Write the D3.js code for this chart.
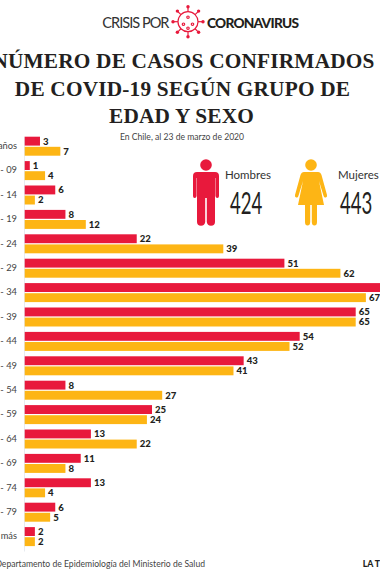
<!DOCTYPE html>
<html lang="es">
<head>
<meta charset="UTF-8">
<title>Casos confirmados de COVID-19 por edad y sexo</title>
<script src="https://d3js.org/d3.v7.min.js"></script>
<style>
    html, body { margin: 0; padding: 0; background: #fff; overflow: hidden; }
    svg { display: block; font-family: Lato, sans-serif; }
</style>
</head>
<body>
<svg width="380" height="570"></svg>
<script>
// Data
const ageGroups = ["00 - 04 años", "05 - 09", "10 - 14", "15 - 19", "20 - 24", "25 - 29", "30 - 34", "35 - 39", "40 - 44",
    "45 - 49", "50 - 54", "55 - 59", "60 - 64", "65 - 69", "70 - 74", "75 - 79", "80 y más"];
const hombres = [3, 1, 6, 8, 22, 51, 93, 65, 54, 43, 8, 25, 13, 11, 13, 6, 2];
const mujeres = [7, 4, 2, 12, 39, 62, 67, 65, 52, 41, 27, 24, 22, 8, 4, 5, 2];
const sexes = ["Hombres", "Mujeres"];
const totals = [424, 443];
const titleLines = ["NÚMERO DE CASOS CONFIRMADOS", "DE COVID-19 SEGÚN GRUPO DE", "EDAD Y SEXO"];

const RED = "#e8193c", YELLOW = "#fdb515", INK = "#231f20";

const svg = d3.select("svg");

// Scales
const x = d3.scaleLinear().domain([0, 65]).range([24.7, 355.7]);
const y = d3.scaleBand().domain(ageGroups).range([136.7, 551.5]).padding(0);
const sub = d3.scaleBand().domain(sexes).range([0, 19]).paddingInner(0.12);

// Header
const head = svg.append("g");
head.append("text").attr("x", 168.5).attr("y", 27.5).attr("text-anchor", "end")
    .attr("font-size", 14.6).attr("font-weight", 400).attr("letter-spacing", -1).attr("fill", "#333").text("CRISIS POR");
head.append("text").attr("x", 207).attr("y", 27.5)
    .attr("font-size", 13.7).attr("font-weight", 900).attr("letter-spacing", -0.75).attr("fill", INK).text("CORONAVIRUS");

// Virus logo
const virus = head.append("g").attr("transform", "translate(188,21.7)")
    .attr("fill", "none").attr("stroke", RED).attr("stroke-width", 1.2);
virus.append("circle").attr("r", 10);
d3.range(8).forEach(function(i) {
    const a = i * Math.PI / 4;
    virus.append("line").attr("x1", 10 * Math.sin(a)).attr("y1", -10 * Math.cos(a))
        .attr("x2", 14 * Math.sin(a)).attr("y2", -14 * Math.cos(a));
    virus.append("circle").attr("cx", 15 * Math.sin(a)).attr("cy", -15 * Math.cos(a))
        .attr("r", 1.7).attr("fill", RED).attr("stroke", "none");
});
[[0, -4.5], [-4.5, 2.5], [4.5, 2.5], [0, 6.5]].forEach(function(p) {
    virus.append("circle").attr("cx", p[0]).attr("cy", p[1]).attr("r", 1.2);
});

// Title
svg.append("g").selectAll("text").data(titleLines).enter().append("text")
    .attr("x", (d, i) => [183.5, 182.5, 181.5][i])
    .attr("y", (d, i) => [68.3, 95.5, 122.5][i])
    .attr("text-anchor", "middle")
    .attr("font-family", "'Liberation Serif', serif")
    .attr("font-weight", 700).attr("font-size", 21.3).attr("letter-spacing", 0.2).attr("fill", INK)
    .text(d => d);

svg.append("text").attr("x", 182).attr("y", 140).attr("text-anchor", "middle")
    .attr("font-size", 8.6).attr("fill", "#444").text("En Chile, al 23 de marzo de 2020");

// Axis line
svg.append("line").attr("x1", 24.5).attr("x2", 24.5).attr("y1", y.range()[0]).attr("y2", y.range()[1])
    .attr("stroke", "#dde3ea").attr("stroke-width", 0.7);

// Bars and value labels
const rows = svg.append("g").selectAll("g").data(ageGroups).enter().append("g")
    .attr("transform", d => "translate(0," + y(d) + ")");

rows.append("text").attr("x", 17).attr("y", 12.4).attr("text-anchor", "end")
    .attr("font-size", 9.3).attr("fill", "#444").text(d => d);

[[hombres, "Hombres", RED], [mujeres, "Mujeres", YELLOW]].forEach(function(s) {
    const values = s[0], name = s[1], color = s[2];
    rows.append("rect")
        .attr("x", x(0))
        .attr("y", sub(name))
        .attr("width", (d, i) => x(values[i]) - x(0))
        .attr("height", sub.bandwidth())
        .attr("fill", color);
    rows.append("text")
        .attr("x", (d, i) => x(values[i]) + 3)
        .attr("y", sub(name) + sub.bandwidth() / 2 + 3.4)
        .attr("font-size", 9.6).attr("font-weight", 900).attr("fill", INK)
        .text((d, i) => values[i]);
});

// Pictograms
const man = svg.append("g").attr("transform", "translate(206,0)").attr("fill", RED);
man.append("circle").attr("cy", 165).attr("r", 5.8);
man.append("path").attr("d", "M-13 176 Q-13 172 -9 172 H9 Q13 172 13 176 V196 Q13 198 11.4 198 Q9.6 198 9.4 196 V178 H-9.4 V196 Q-9.6 198 -11.4 198 Q-13 198 -13 196 Z");
man.append("path").attr("d", "M-9 174 H9 V222 Q9 225.7 5 225.7 Q1.2 225.7 0.8 222 V198 H-0.8 V222 Q-1.2 225.7 -5 225.7 Q-9 225.7 -9 222 Z");

const woman = svg.append("g").attr("transform", "translate(311,0)").attr("fill", YELLOW);
woman.append("circle").attr("cy", 165).attr("r", 5.8);
woman.append("path").attr("d", "M-7 172 H7 Q9.5 172 10.5 175 L16 195 Q16.4 197 14.8 197.5 Q13.2 198 12.6 196 L8 181 L13 205 H-13 L-8 181 L-12.6 196 Q-13.2 198 -14.8 197.5 Q-16.4 197 -16 195 L-10.5 175 Q-9.5 172 -7 172 Z");
woman.append("path").attr("d", "M-6 204 H-0.8 V222 Q-1 225.5 -3.4 225.5 Q-6 225.5 -6 222 Z M0.8 204 H6 V222 Q6 225.5 3.4 225.5 Q1 225.5 0.8 222 Z");

// Totals
const legend = svg.append("g").selectAll("g").data(sexes).enter().append("g")
    .attr("transform", (d, i) => "translate(" + [225, 338][i] + ",0)");
legend.append("text").attr("y", 178.7).attr("font-size", 11.5).attr("font-weight", 400).attr("fill", "#333").text(d => d);
legend.append("text")
    .attr("transform", (d, i) => "translate(" + [5, 2][i] + ",214) scale(0.62,1)")
    .attr("font-size", 30).attr("font-weight", 400).attr("fill", INK)
    .text((d, i) => totals[i]);

// Footer
svg.append("text").attr("x", 205).attr("y", 567).attr("text-anchor", "end").attr("font-size", 8.6).attr("fill", "#444")
    .text("Fuente: Departamento de Epidemiología del Ministerio de Salud");
svg.append("text").attr("x", 362.7).attr("y", 567).attr("font-size", 8.7).attr("font-weight", 900).attr("fill", INK).text("LA TERCERA");
</script>
</body>
</html>
